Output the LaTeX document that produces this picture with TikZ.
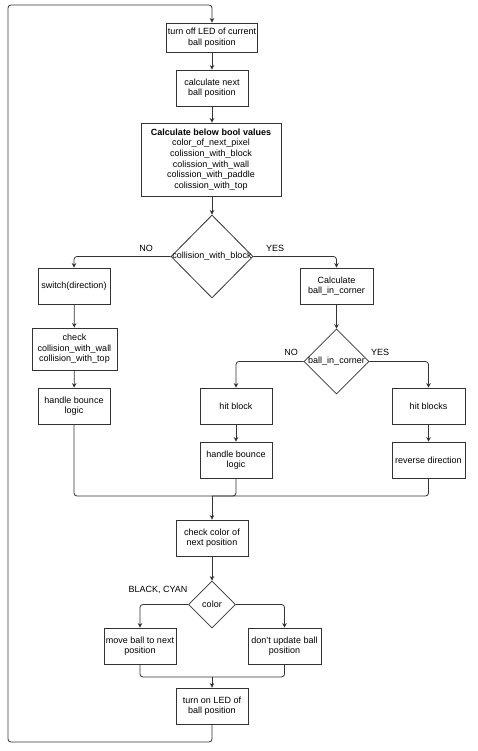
\documentclass[tikz,border=0pt]{standalone}
\usepackage{fontspec}
\setmainfont{Liberation Sans}
\usetikzlibrary{arrows.meta,shapes.geometric}
\definecolor{ln}{HTML}{333333}
\begin{document}
\begin{tikzpicture}[x=1pt,y=-1pt,
  font=\fontsize{9}{10.6}\selectfont,
  box/.style={draw=ln,line width=0.8pt,fill=white,rectangle,inner sep=1pt,align=center},
  dia/.style={draw=ln,line width=0.8pt,fill=white,diamond,inner sep=0pt,aspect=1},
  conn/.style={draw=ln,line width=0.8pt,rounded corners=3pt},
  arr/.style={conn,-{Stealth[length=4.5pt,width=4.5pt]}},
  lbl/.style={inner sep=0pt,font=\fontsize{9}{10.6}\selectfont}]
\useasboundingbox (0,0) rectangle (478,751);
\fill[white] (0,0) rectangle (478,751);

\node[box,minimum width=90pt,minimum height=29pt] (b1) at (212,37.5) {turn off LED of current\\ball position};
\node[box,minimum width=72pt,minimum height=36pt] (b2) at (212,88) {calculate next\\ball position};
\node[box,minimum width=140pt,minimum height=73pt] (b3) at (211,159.5) {\textbf{Calculate below bool values}\\color\_of\_next\_pixel\\colission\_with\_block\\colission\_with\_wall\\colission\_with\_paddle\\colission\_with\_top};
\node[dia,minimum width=82pt,minimum height=83pt,label={[lbl]center:collision\_with\_block}] (d1) at (212,256.5) {};

\node[box,minimum width=72pt,minimum height=36pt] (sw) at (74,286) {switch(direction)};
\node[box,minimum width=85pt,minimum height=42pt] (chk) at (74.5,349) {check\\collision\_with\_wall\\collision\_with\_top};
\node[box,minimum width=72pt,minimum height=36pt] (hbl) at (74,406) {handle bounce\\logic};

\node[box,minimum width=73pt,minimum height=36pt] (cbc) at (336.5,286) {Calculate\\ball\_in\_corner};
\node[dia,minimum width=65pt,minimum height=65pt,label={[lbl]center:ball\_in\_corner}] (d2) at (336.5,361.5) {};
\node[box,minimum width=72pt,minimum height=36pt] (hb) at (236,406) {hit block};
\node[box,minimum width=72pt,minimum height=36pt] (hbl2) at (236,460) {handle bounce\\logic};
\node[box,minimum width=73pt,minimum height=36pt] (hbs) at (428.5,406) {hit blocks};
\node[box,minimum width=73pt,minimum height=36pt] (rev) at (428.5,460) {reverse direction};

\coordinate (m1) at (212,496);
\node[box,minimum width=72pt,minimum height=36pt] (ccn) at (212,538) {check color of\\next position};
\node[dia,minimum width=47pt,minimum height=47pt,label={[lbl]center:color}] (d3) at (212,604.5) {};
\node[box,minimum width=72pt,minimum height=36pt] (mv) at (140,646) {move ball to next\\position};
\node[box,minimum width=73pt,minimum height=36pt] (dn) at (284.5,646) {don't update ball\\position};
\coordinate (m2) at (212,677);
\node[box,minimum width=72pt,minimum height=36pt] (ton) at (212,706) {turn on LED of\\ball position};

\coordinate (l1) at (212,742);
\coordinate (l2) at (8,742);
\coordinate (l3) at (8,5);
\coordinate (l4) at (212,5);

% connectors
\draw[arr] (ton.south) -- (l1) -- (l2) -- (l3) -- (l4) -- (b1.north);
\draw[arr] (b1) -- (b2);
\draw[arr] (b2.south) -- (b2.south |- b3.north);
\draw[arr] (b3.south -| d1.north) -- (d1.north);
\draw[arr] (d1.west) -| (sw.north);
\draw[arr] (d1.east) -| (cbc.north);
\draw[arr] (sw) -- (chk);
\draw[arr] (chk) -- (hbl);
\draw[arr] (cbc) -- (d2);
\draw[arr] (d2.west) -| (hb.north);
\draw[arr] (d2.east) -| (hbs.north);
\draw[arr] (hb) -- (hbl2);
\draw[arr] (hbs) -- (rev);
\draw[conn] (hbl.south) |- (m1);
\draw[conn] (hbl2.south) |- (m1);
\draw[conn] (rev.south) |- (m1);
\draw[arr] (m1) -- (ccn.north);
\draw[arr] (ccn) -- (d3);
\draw[arr] (d3.west) -| (mv.north);
\draw[arr] (d3.east) -| (dn.north);
\draw[conn] (mv.south) |- (m2);
\draw[conn] (dn.south) |- (m2);
\draw[arr] (m2) -- (ton.north);

% labels
\node[lbl] (lno1) at (146,248) {NO};
\node[lbl] (lyes1) at (275,248) {YES};
\node[lbl] (lno2) at (291,352) {NO};
\node[lbl] (lyes2) at (380,352) {YES};
\node[lbl] (lbc) at (158,590) {BLACK, CYAN};
\end{tikzpicture}
\end{document}
